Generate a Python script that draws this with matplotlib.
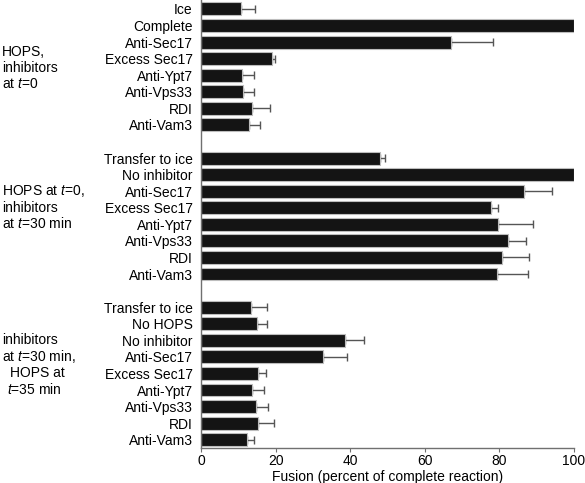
import matplotlib
matplotlib.use('Agg')
import matplotlib.pyplot as plt
import matplotlib.transforms as mtransforms
import numpy as np

plt.rcParams['font.family'] = 'Liberation Sans'
plt.rcParams['font.size'] = 10
plt.rcParams['mathtext.fontset'] = 'custom'
plt.rcParams['mathtext.it'] = 'Liberation Sans:italic'
plt.rcParams['mathtext.rm'] = 'Liberation Sans'

# group 1: HOPS, inhibitors at t=0
labels_1 = ['Ice', 'Complete', 'Anti-Sec17', 'Excess Sec17', 'Anti-Ypt7',
            'Anti-Vps33', 'RDI', 'Anti-Vam3']
values_1 = [10.6, 100, 67.1, 19.0, 11.1, 11.3, 13.7, 12.9]
errors_1 = [4.0, 0, 11.2, 0.8, 3.2, 3.0, 4.9, 2.9]

# group 2: HOPS at t=0, inhibitors at t=30 min
labels_2 = ['Transfer to ice', 'No inhibitor', 'Anti-Sec17', 'Excess Sec17',
            'Anti-Ypt7', 'Anti-Vps33', 'RDI', 'Anti-Vam3']
values_2 = [48.0, 100, 86.7, 77.7, 79.7, 82.4, 80.7, 79.4]
errors_2 = [1.3, 0, 7.3, 2.0, 9.4, 4.6, 7.3, 8.3]

# group 3: inhibitors at t=30 min, HOPS at t=35 min
labels_3 = ['Transfer to ice', 'No HOPS', 'No inhibitor', 'Anti-Sec17',
            'Excess Sec17', 'Anti-Ypt7', 'Anti-Vps33', 'RDI', 'Anti-Vam3']
values_3 = [13.3, 15.0, 38.7, 32.7, 15.4, 13.7, 14.7, 15.4, 12.3]
errors_3 = [4.3, 2.6, 5.0, 6.4, 1.9, 3.3, 3.3, 4.2, 2.0]

xticks = [0, 20, 40, 60, 80, 100]

labels = []
values = []
errors = []
pos = []
start = 0
for lab, val, err in [(labels_1, values_1, errors_1),
                      (labels_2, values_2, errors_2),
                      (labels_3, values_3, errors_3)]:
    labels += lab
    values += val
    errors += err
    pos += list(range(start, start + len(lab)))
    start += len(lab) + 1
pos = np.array(pos)
values = np.array(values)
errors = np.array(errors)

fig = plt.figure(figsize=(5.85, 4.83), dpi=100)
ax = fig.add_axes([201/585, 35/483, 373/585, 448/483])

ax.barh(pos, values, height=0.78, color='#141414', edgecolor='#bdbdbd', linewidth=0.8, zorder=2)
m = errors > 0
ax.errorbar(values[m], pos[m], xerr=[np.zeros(m.sum()), errors[m]], fmt='none',
            ecolor='#555555', elinewidth=1.0, capsize=3, capthick=1.0, zorder=1)

ax.set_yticks(pos)
ax.set_yticklabels(labels)
ax.set_ylim(26.5, -0.54)
ax.set_xlim(0, 100)
ax.set_xticks(xticks)
ax.set_xlabel('Fusion (percent of complete reaction)', labelpad=1)

for s in ['top', 'right']:
    ax.spines[s].set_visible(False)
for s in ['left', 'bottom']:
    ax.spines[s].set_color('#707070')
    ax.spines[s].set_linewidth(1.0)
ax.tick_params(axis='y', length=0, pad=6)
ax.tick_params(axis='x', direction='out', length=3, color='#707070', pad=1.5)

tr = mtransforms.blended_transform_factory(fig.transFigure, ax.transData)
ax.text(2/585, 3.56, 'HOPS,\ninhibitors\nat $t$=0', transform=tr,
        ha='left', va='center', linespacing=1.15)
ax.text(2/585, 11.97, 'HOPS at $t$=0,\ninhibitors\nat $t$=30 min', transform=tr,
        ha='left', va='center', linespacing=1.15)
ax.text(2/585, 19.96, 'inhibitors', transform=tr, ha='left', va='center')
ax.text(2/585, 20.97, 'at $t$=30 min,', transform=tr, ha='left', va='center')
ax.text(10/585, 21.97, 'HOPS at', transform=tr, ha='left', va='center')
ax.text(7/585, 22.98, '$t$=35 min', transform=tr, ha='left', va='center')

fig.savefig('out.png', dpi=100)
